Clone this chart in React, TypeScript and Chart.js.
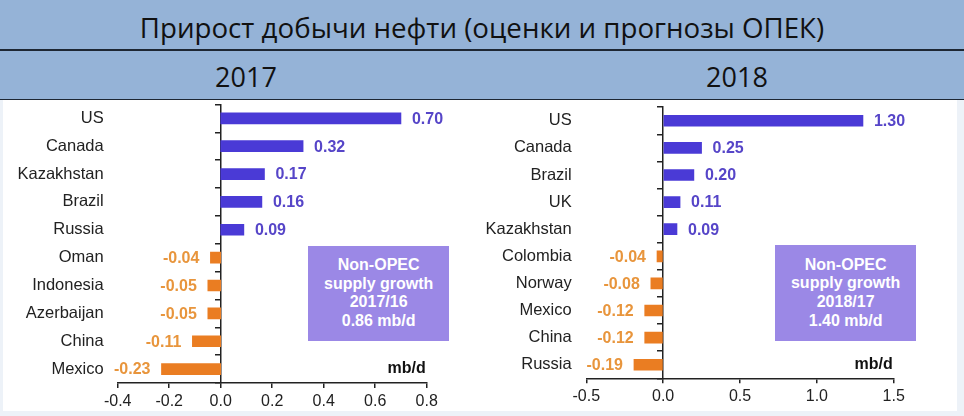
import React, { useEffect, useRef } from "react";
import { Chart, registerables } from "chart.js";

Chart.register(...registerables);

const TITLE = "Прирост добычи нефти (оценки и прогнозы ОПЕК)";
const YEAR_A = "2017";
const YEAR_B = "2018";

const countries2017 = ["US", "Canada", "Kazakhstan", "Brazil", "Russia", "Oman", "Indonesia", "Azerbaijan", "China", "Mexico"];
const values2017 = [0.7, 0.32, 0.17, 0.16, 0.09, -0.04, -0.05, -0.05, -0.11, -0.23];
const ticks2017 = { min: -0.4, max: 0.8, step: 0.2 };
const box2017 = ["Non-OPEC", "supply growth", "2017/16", "0.86 mb/d"];

const countries2018 = ["US", "Canada", "Brazil", "UK", "Kazakhstan", "Colombia", "Norway", "Mexico", "China", "Russia"];
const values2018 = [1.3, 0.25, 0.2, 0.11, 0.09, -0.04, -0.08, -0.12, -0.12, -0.19];
const ticks2018 = { min: -0.5, max: 1.5, step: 0.5 };
const box2018 = ["Non-OPEC", "supply growth", "2018/17", "1.40 mb/d"];

const UNIT = "mb/d";

const POS_BAR = "#4a3ad6";
const NEG_BAR = "#ea7d22";
const POS_TXT = "#5645c8";
const NEG_TXT = "#e8953c";
const AXIS = "#222222";
const FONT = '"Liberation Sans", Arial, sans-serif';

type PanelProps = {
  labels: string[];
  values: number[];
  range: { min: number; max: number; step: number };
  left: number;
  width: number;
  yWidth: number;
  yPad: number;
  padRight: number;
  padTop: number;
  xHeight: number;
};

const valueLabels = {
  id: "valueLabels",
  afterDatasetsDraw(chart: any) {
    const ctx = chart.ctx;
    const meta = chart.getDatasetMeta(0);
    const data = chart.data.datasets[0].data as number[];
    ctx.save();
    ctx.font = `bold 16px ${FONT}`;
    ctx.textBaseline = "middle";
    meta.data.forEach((bar: any, i: number) => {
      const v = data[i];
      if (v >= 0) {
        ctx.fillStyle = POS_TXT;
        ctx.textAlign = "left";
        ctx.fillText(v.toFixed(2), bar.x + 11, bar.y + 1);
      } else {
        ctx.fillStyle = NEG_TXT;
        ctx.textAlign = "right";
        ctx.fillText(v.toFixed(2), bar.x - 11, bar.y + 1);
      }
    });
    const ys = chart.scales.y;
    const last = chart.data.labels.length - 1;
    ctx.fillStyle = "#111";
    ctx.textAlign = "right";
    ctx.fillText(UNIT, chart.scales.x.right - 1, ys.getPixelForValue(last));
    ctx.restore();
  },
};

function Panel(p: PanelProps) {
  const ref = useRef<HTMLCanvasElement | null>(null);
  useEffect(() => {
    if (!ref.current) return;
    const chart = new Chart(ref.current, {
      type: "bar",
      data: {
        labels: p.labels,
        datasets: [
          {
            data: p.values,
            backgroundColor: p.values.map((v) => (v >= 0 ? POS_BAR : NEG_BAR)),
            borderWidth: 0,
            barThickness: 11,
          },
        ],
      },
      options: {
        indexAxis: "y",
        responsive: false,
        animation: false,
        layout: { padding: { left: 0, right: p.padRight, top: p.padTop, bottom: 0 } },
        plugins: { legend: { display: false }, tooltip: { enabled: false } },
        scales: {
          x: {
            type: "linear",
            min: p.range.min,
            max: p.range.max,
            ticks: {
              stepSize: p.range.step,
              callback: (v: any) => Number(v).toFixed(1),
              font: { family: FONT, size: 16 },
              color: AXIS,
              padding: 4,
            },
            grid: { drawOnChartArea: false, drawTicks: true, tickLength: 5, color: AXIS, lineWidth: 1.5 },
            border: { display: true, color: AXIS, width: 1.5 },
            afterFit: (s: any) => {
              s.height = p.xHeight;
            },
          },
          y: {
            type: "category",
            position: "left",
            grid: { display: false, drawTicks: false },
            border: { display: false },
            ticks: { font: { family: FONT, size: 16.5 }, color: AXIS, padding: p.yPad },
            afterFit: (s: any) => {
              s.width = p.yWidth;
              s.paddingTop = 0;
              s.paddingBottom = 0;
            },
          },
          y2: {
            type: "category",
            axis: "y",
            labels: p.labels,
            position: { x: 0 },
            offset: true,
            grid: { offset: true, drawOnChartArea: false, drawTicks: true, tickLength: 5, color: AXIS, lineWidth: 1.5 },
            border: { display: true, color: AXIS, width: 1.5 },
            ticks: { display: false },
            afterFit: (s: any) => {
              s.paddingTop = 0;
              s.paddingBottom = 0;
            },
          },
        },
      } as any,
      plugins: [valueLabels],
    });
    return () => chart.destroy();
  }, []);
  return (
    <canvas
      ref={ref}
      width={p.width}
      height={316}
      style={{ position: "absolute", left: p.left, top: 100, width: p.width, height: 316 }}
    />
  );
}

function Box({ lines, left, top, width, height }: { lines: string[]; left: number; top: number; width: number; height: number }) {
  return (
    <div
      style={{
        position: "absolute",
        left,
        top,
        width,
        height,
        background: "#9b88e6",
        color: "#fff",
        font: `bold 16px ${FONT}`,
        lineHeight: "18.7px",
        display: "flex",
        flexDirection: "column",
        alignItems: "center",
        justifyContent: "center",
        textAlign: "center",
      }}
    >
      {lines.map((l, i) => (
        <div key={i}>{l}</div>
      ))}
    </div>
  );
}

export default function App() {
  useEffect(() => {
    document.body.style.margin = "0";
  }, []);
  const band = "#95b3d7";
  return (
    <div style={{ position: "relative", width: 964, height: 416, background: "#edf2f8", overflow: "hidden" }}>
      <div style={{ position: "absolute", left: 0, top: 0, width: 964, height: 49, background: band }} />
      <div style={{ position: "absolute", left: 0, top: 49, width: 964, height: 1.5, background: "#1e2733" }} />
      <div style={{ position: "absolute", left: 0, top: 50.5, width: 964, height: 48, background: band }} />
      <div style={{ position: "absolute", left: 0, top: 98.5, width: 964, height: 1.5, background: "#1e2733" }} />
      <div
        style={{
          position: "absolute",
          left: 0,
          width: 964,
          top: 8,
          lineHeight: "34px",
          textAlign: "center",
          font: '27.7px "Open Sans", sans-serif',
          color: "#111",
          whiteSpace: "nowrap",
        }}
      >
        {TITLE}
      </div>
      <div
        style={{
          position: "absolute",
          left: 146,
          width: 200,
          top: 58,
          lineHeight: "34px",
          textAlign: "center",
          font: '27px "Open Sans", sans-serif',
          color: "#111",
        }}
      >
        {YEAR_A}
      </div>
      <div
        style={{
          position: "absolute",
          left: 637,
          width: 200,
          top: 58,
          lineHeight: "34px",
          textAlign: "center",
          font: '27px "Open Sans", sans-serif',
          color: "#111",
        }}
      >
        {YEAR_B}
      </div>
      <div style={{ position: "absolute", left: 3, top: 100, width: 954, height: 311, background: "#fff" }} />
      <Panel
        labels={countries2017}
        values={values2017}
        range={ticks2017}
        left={0}
        width={480}
        yWidth={117.7}
        yPad={14}
        padRight={53.3}
        padTop={4.4}
        xHeight={33}
      />
      <Panel
        labels={countries2018}
        values={values2018}
        range={ticks2018}
        left={480}
        width={484}
        yWidth={106.3}
        yPad={14.6}
        padRight={70.3}
        padTop={7.2}
        xHeight={37.7}
      />
      <Box lines={box2017} left={308} top={245.7} width={141.3} height={95.3} />
      <Box lines={box2018} left={775.3} top={245.3} width={140.7} height={95.4} />
    </div>
  );
}
